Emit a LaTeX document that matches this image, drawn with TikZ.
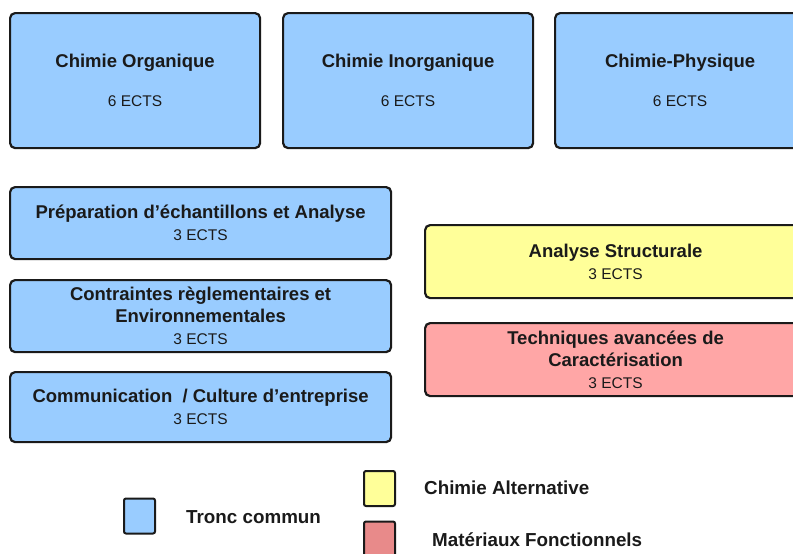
\documentclass[tikz,border=0pt]{standalone}
\usepackage{fontspec}
\setmainfont{Liberation Sans}
\usetikzlibrary{positioning}

\definecolor{bleu}{HTML}{99CCFF}
\definecolor{jaune}{HTML}{FFFF99}
\definecolor{rose}{HTML}{FFA6A6}
\definecolor{roseleg}{HTML}{E88A8A}
\definecolor{encre}{HTML}{1A1A1A}

\newcommand{\titre}{\fontsize{18.5}{22}\selectfont\bfseries}
\newcommand{\ects}[1]{{\fontsize{15.5}{22}\selectfont\mdseries #1}}

\begin{document}
\begin{tikzpicture}[x=1pt,y=-1pt,
  ue/.style = {draw=encre, line width=2.2pt, rounded corners=5pt, anchor=north west,
               align=center, text=encre, inner sep=0pt, font=\titre},
  grand/.style = {ue, minimum width=250pt, minimum height=135pt},
  long/.style = {ue, minimum width=381pt, minimum height=72pt},
  tronc/.style = {fill=bleu},
  alter/.style = {fill=jaune},
  fonct/.style = {fill=rose},
  carre/.style = {draw=encre, line width=2pt, rounded corners=2pt,
                  minimum width=31pt, minimum height=35pt, inner sep=0pt},
  legende/.style = {anchor=west, text=encre, inner sep=0pt,
                    font=\fontsize{18.8}{22}\selectfont\bfseries}]
\useasboundingbox (0,0) rectangle (793,554);

% modules de 6 ECTS
\node[grand, tronc] (orga) at (9,12) {Chimie Organique\\[17pt]\ects{6 ECTS}};
\node[grand, tronc] (inorga) at (282,12) {Chimie Inorganique\\[17pt]\ects{6 ECTS}};
\node[grand, tronc] (phys) at (554,12) {Chimie-Physique\\[17pt]\ects{6 ECTS}};

% tronc commun 3 ECTS
\node[long, tronc] (prep) at (9,186) {Préparation d’échantillons et Analyse\\\ects{3 ECTS}};
\node[long, tronc] (contr) at (9,279) {Contraintes règlementaires et\\Environnementales\\\ects{3 ECTS}};
\node[long, tronc, minimum height=70pt] (comm) at (9,371) {Communication~ / Culture d’entreprise\\\ects{3 ECTS}};

% options
\node[long, alter, minimum height=73pt] (struct) at (424,224) {Analyse Structurale\\\ects{3 ECTS}};
\node[long, fonct, minimum height=73pt] (carac) at (424,322) {Techniques avancées de\\Caractérisation\\\ects{3 ECTS}};

% legende
\node[carre, fill=bleu] (cbleu) at (139.5,516) {};
\node[legende] (ltronc) at (186,517) {Tronc commun};
\node[carre, fill=jaune] (cjaune) at (379.5,488.5) {};
\node[legende] (lalter) at (424,488) {Chimie Alternative};
\node[carre, fill=roseleg] (crose) at (379.5,539) {};
\node[legende] (lfonct) at (432,540) {Matériaux Fonctionnels};
\end{tikzpicture}
\end{document}
